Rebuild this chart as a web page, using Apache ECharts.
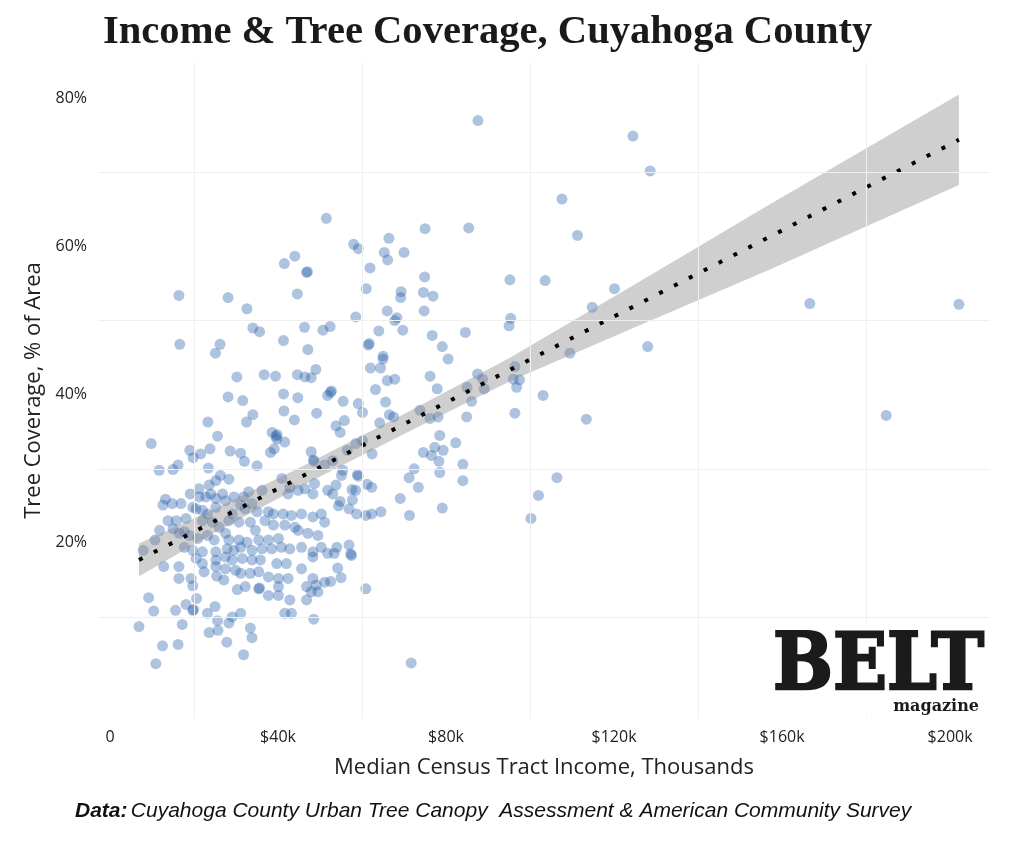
<!DOCTYPE html>
<html>
<head>
<meta charset="utf-8">
<title>Income &amp; Tree Coverage, Cuyahoga County</title>
<script src="https://cdn.jsdelivr.net/npm/echarts@6.0.0/dist/echarts.min.js"></script>
<style>
  html, body { margin: 0; padding: 0; background: #fff; }
  #chart { width: 1024px; height: 845px; }
</style>
</head>
<body>
<div id="chart"></div>
<script>
// census tracts: [median income in $k, tree canopy in % of area]
var tracts = [
    [46.8,56.5],[47.0,56.6],[16.4,53.4],[28.1,53.1],[44.6,53.6],[32.6,51.6],[34.0,49.0],[35.6,48.5],
    [46.3,49.1],[50.7,48.7],[16.6,46.8],[26.2,46.8],[25.1,45.6],[41.3,47.3],[47.1,46.1],[30.2,42.4],
    [36.7,42.7],[39.4,42.5],[44.6,42.7],[46.4,42.4],[47.9,42.3],[49.0,43.4],[28.1,39.7],[31.6,39.2],
    [41.3,40.1],[44.7,39.6],[34.0,37.3],[32.5,36.3],[41.4,37.8],[43.9,36.6],[49.2,37.5],[23.3,36.3],
    [25.6,34.4],[38.6,34.9],[39.5,34.4],[39.8,34.6],[39.7,34.0],[41.6,33.6],[38.2,32.2],[39.1,32.7],
    [9.8,33.4],[19.0,32.5],[19.8,31.5],[21.6,32.0],[23.8,32.7],[28.6,32.4],[31.1,32.1],[32.0,31.0],
    [35.0,30.4],[47.9,32.3],[48.4,31.2],[48.6,31.0],[16.2,30.5],[11.7,29.8],[15.0,29.9],[23.4,30.1],
    [51.5,63.8],[44.0,58.7],[41.5,57.7],
    [26.3,29.1],[28.3,28.6],[25.2,28.4],[23.6,27.8],[21.2,27.3],[19.1,26.6],[13.2,25.9],[12.6,25.1],
    [14.8,25.3],[16.9,25.3],[19.7,24.8],[21.2,26.2],[22.8,26.2],[24.0,26.6],[25.2,26.0],[26.8,26.6],
    [27.5,25.7],[29.5,26.2],[31.8,26.2],[33.0,26.9],[33.8,25.3],[36.2,27.1],[40.9,28.7],[42.4,26.6],
    [42.8,27.5],[44.8,27.1],[46.4,27.3],[48.3,26.6],[48.7,28.0],[20.5,24.6],[22.0,24.4],[23.2,23.9],
    [25.2,24.8],[29.1,23.9],[31.1,25.1],[32.2,24.6],[35.0,24.2],[37.7,24.2],[38.9,23.9],[41.2,23.9],
    [43.2,23.7],[45.6,23.9],[48.3,23.5],[50.3,23.9],[13.8,23.0],[15.8,23.0],[18.1,23.3],[11.8,21.7],
    [15.0,21.9],[17.7,21.5],[22.0,23.0],[24.4,22.8],[26.0,22.1],[28.3,23.0],[30.7,22.8],[33.4,22.8],
    [34.6,21.7],[36.9,23.0],[38.9,22.4],[41.6,22.4],[44.0,22.1],[44.8,21.7],[47.1,21.3],[49.5,21.0],
    [10.7,20.4],[7.9,19.0],[16.5,21.3],[18.9,21.0],[20.9,20.6],[23.2,21.0],[24.8,20.4],[27.5,21.3],
    [28.3,20.4],[30.7,20.4],[32.6,20.1],[35.4,20.4],[37.7,20.4],[40.1,20.6],[38.5,19.2],[40.8,19.4],
    [42.8,19.2],[45.6,19.4],[48.3,18.8],[50.3,19.4],[17.7,19.4],[19.7,19.0],[22.0,18.8],[25.2,18.8],
    [27.9,19.2],[29.5,19.0],[31.1,19.4],[33.8,19.0],[36.2,19.2],[20.5,17.9],[22.0,17.2],[25.2,17.7],
    [27.5,18.1],[29.1,17.7],[31.5,17.9],[33.8,17.7],[35.8,17.7],[39.7,17.2],[42.0,17.2],[45.6,16.5],
    [48.3,18.1],[12.8,16.8],[16.4,16.8],[22.4,16.1],[25.2,16.8],[27.5,16.5],[29.9,16.3],[31.1,15.9],
    [33.4,15.9],[35.4,16.1],[37.7,15.4],[40.1,15.2],[42.4,15.2],[48.3,15.2],[46.8,14.1],[47.9,13.4],
    [49.1,14.3],[16.4,15.2],[19.3,15.2],[19.7,14.2],[25.4,15.5],[27.1,15.0],[30.3,13.7],[32.2,14.1],
    [35.4,13.8],[35.6,13.9],[37.7,12.9],[40.1,14.1],[40.1,12.9],[42.8,12.3],[46.8,12.3],[49.5,13.4],
    [9.2,12.6],[10.4,10.8],[15.6,10.9],[18.1,11.7],[19.7,10.9],[19.9,11.0],[20.6,12.5],[23.2,10.5],
    [25.0,11.4],[31.1,10.5],[29.1,10.0],[28.3,9.2],[25.6,9.5],[41.6,10.5],[43.2,10.5],[48.5,9.7],
    [6.9,8.7],[17.2,9.0],[23.6,7.9],[25.7,8.2],[33.4,8.5],[33.8,7.2],[27.8,6.6],[12.5,6.1],
    [16.2,6.3],[31.8,4.9],[10.9,3.7],
    [75.0,62.4],[85.4,62.5],[66.4,61.1],[58.0,60.3],[59.1,59.7],[65.3,59.2],[66.1,58.2],[70.0,59.2],
    [61.9,57.1],[74.9,55.9],[95.2,55.5],[61.0,54.3],[69.3,53.9],[69.2,53.1],[74.6,53.8],[76.9,53.3],
    [66.0,51.3],[74.8,51.3],[58.5,50.5],[68.3,50.4],[67.8,50.0],[69.7,48.7],[95.4,50.3],[95.0,49.3],
    [52.4,49.2],[64.0,48.6],[76.7,48.0],[84.6,48.4],[61.5,46.7],[61.7,46.9],[79.1,46.5],[80.5,44.8],
    [65.0,45.2],[65.0,44.8],[62.0,43.6],[64.4,43.6],[66.0,41.9],[67.8,42.1],[76.2,42.5],[77.9,40.8],
    [63.2,40.7],[52.5,40.3],[52.7,40.5],[51.8,39.9],[55.5,39.1],[59.1,38.8],[60.1,37.6],[65.6,39.0],
    [66.5,37.3],[67.5,37.0],[85.0,41.0],[87.5,42.8],[88.7,42.1],[89.1,40.8],[86.1,39.1],[96.4,43.8],
    [96.0,42.1],[96.8,41.0],[73.8,37.9],[76.2,36.8],[78.1,37.0],[84.9,37.0],[96.4,37.5],[55.8,36.5],
    [53.8,35.8],[54.8,34.9],[64.2,36.2],[78.5,34.5],[82.3,33.5],[77.3,32.9],[79.3,32.5],[74.6,32.2],
    [76.5,31.8],[78.3,31.0],[78.5,29.5],[84.0,30.6],[84.0,28.4],[72.4,30.0],[71.2,28.8],[73.4,27.5],
    [69.1,26.0],[71.3,23.7],[79.1,24.7],[60.1,33.8],[58.5,33.4],[62.4,32.0],[56.5,32.5],[53.0,31.1],
    [51.1,30.5],[55.4,29.8],[55.1,29.1],[58.9,29.2],[59.1,29.0],[61.2,27.9],[62.3,27.5],[57.6,27.2],
    [58.5,27.1],[53.8,27.8],[51.8,27.1],[53.0,26.6],[57.7,25.8],[54.8,25.6],[54.4,25.0],[56.9,24.6],
    [58.7,23.9],[60.9,23.7],[62.3,23.9],[64.5,24.2],[51.1,22.8],[54.0,19.4],[56.9,19.7],[51.8,18.6],
    [53.4,18.6],[57.3,18.5],[57.5,18.3],[54.2,16.6],[55.0,15.3],[51.1,14.7],[52.5,14.8],[60.9,13.8],
    [124.5,74.9],[128.6,70.2],[107.6,66.4],[111.3,61.5],[103.6,55.4],[120.1,54.3],[114.8,51.8],[128.0,46.5],
    [109.5,45.6],[97.5,42.0],[103.1,39.9],[113.4,36.7],[106.4,28.8],[102.0,26.4],[100.2,23.3],
    [87.6,77.0],[166.6,52.3],[202.1,52.2],[184.8,37.2],[71.7,3.8]
];

// linear fit and its confidence band
var fitIncome = [6.9, 202.1];
var fitTree = [17.7, 74.4];
var bandIncome = [6.9, 25, 45, 70, 95.2, 125, 157.1, 202.1];
var bandLow = [15.5, 21.4, 27.5, 34.7, 41.8, 49.1, 56.9, 68.3];
var bandHigh = [19.9, 24.6, 30.1, 37.4, 45.0, 54.9, 65.7, 80.5];

// axis labels and the light grid between them
var incomeTicks = [0, 40, 80, 120, 160, 200];
var treeTicks = [20, 40, 60, 80];
var incomeGrid = [20, 60, 100, 140, 180];
var treeGrid = [10, 30, 50, 70];

var labelFont = '"Open Sans", Lato, sans-serif';
var chart = echarts.init(document.getElementById('chart'));

var gridLines = [];
incomeGrid.forEach(function (v) { gridLines.push({ xAxis: v }); });
treeGrid.forEach(function (v) { gridLines.push({ yAxis: v }); });

var option = {
    animation: false,
    backgroundColor: '#fff',
    title: {
        text: 'Income & Tree Coverage, Cuyahoga County',
        left: 98,
        top: 7,
        textStyle: {
            fontFamily: '"Liberation Serif", "DejaVu Serif", serif',
            fontWeight: 'bold',
            fontSize: 40.6,
            color: '#1a1a1a'
        }
    },
    grid: { left: 98, right: 34, top: 62, bottom: 126 },
    xAxis: {
        type: 'value',
        min: -2.86,
        max: 209.5,
        name: 'Median Census Tract Income, Thousands',
        nameLocation: 'middle',
        nameGap: 38,
        nameTextStyle: { fontFamily: labelFont, fontSize: 22, color: '#222' },
        axisLine: { show: false },
        axisTick: { show: false },
        splitLine: { show: false },
        axisLabel: {
            customValues: incomeTicks,
            margin: 10,
            fontFamily: labelFont,
            fontSize: 16,
            color: '#222',
            formatter: function (v) {
                return v === 0 ? '0' : '$' + v + 'k';
            }
        }
    },
    yAxis: {
        type: 'value',
        min: -3.77,
        max: 84.9,
        name: 'Tree Coverage, % of Area',
        nameLocation: 'middle',
        nameRotate: 90,
        nameGap: 50,
        nameTextStyle: { fontFamily: labelFont, fontSize: 22, color: '#222' },
        axisLine: { show: false },
        axisTick: { show: false },
        splitLine: { show: false },
        axisLabel: {
            customValues: treeTicks,
            margin: 11,
            fontFamily: labelFont,
            fontSize: 16,
            color: '#222',
            formatter: '{value}%'
        }
    },
    series: [
        {
            // faint grid lines sit halfway between the labels
            type: 'scatter',
            data: [],
            silent: true,
            z: 1,
            markLine: {
                silent: true,
                symbol: 'none',
                label: { show: false },
                lineStyle: { color: '#efefef', width: 1, type: 'solid' },
                emphasis: { disabled: true },
                data: gridLines
            }
        },
        {
            type: 'scatter',
            data: tracts,
            symbolSize: 11,
            z: 2,
            itemStyle: { color: 'rgba(30, 90, 165, 0.45)' }
        },
        {
            type: 'custom',
            silent: true,
            z: 3,
            data: [[bandIncome[0], bandLow[0]]],
            renderItem: function (params, api) {
                var pts = [];
                for (var i = 0; i < bandIncome.length; i++) {
                    pts.push(api.coord([bandIncome[i], bandHigh[i]]));
                }
                for (var j = bandIncome.length - 1; j >= 0; j--) {
                    pts.push(api.coord([bandIncome[j], bandLow[j]]));
                }
                return {
                    type: 'polygon',
                    shape: { points: pts },
                    style: { fill: 'rgba(140, 140, 140, 0.42)' }
                };
            }
        },
        {
            type: 'line',
            silent: true,
            z: 4,
            symbol: 'none',
            data: [[fitIncome[0], fitTree[0]], [fitIncome[1], fitTree[1]]],
            lineStyle: { color: '#000', width: 4, type: [4, 12.7], cap: 'butt' }
        }
    ],
    graphic: [
        {
            type: 'rect',
            shape: { x: 770, y: 624, width: 216, height: 92 },
            style: { fill: '#fff' },
            z: 10
        },
        {
            type: 'text',
            x: 773,
            y: 669,
            scaleX: 0.91,
            z: 11,
            style: {
                text: 'BELT',
                font: 'bold 78px "DejaVu Serif", serif',
                fill: '#1b1b1b',
                stroke: '#1b1b1b',
                lineWidth: 2.5,
                verticalAlign: 'middle'
            }
        },
        {
            type: 'text',
            x: 979,
            y: 707,
            z: 11,
            style: {
                text: 'magazine',
                font: 'bold 16px "DejaVu Serif", serif',
                fill: '#1b1b1b',
                align: 'right',
                verticalAlign: 'middle'
            }
        },
        {
            type: 'text',
            left: 75,
            top: 801,
            style: {
                rich: {
                    b: { font: 'italic bold 21px "Liberation Sans", Arial, sans-serif', fill: '#111' },
                    n: { font: 'italic 21px "Liberation Sans", Arial, sans-serif', fill: '#111' }
                },
                text: '{b|Data:} {n|Cuyahoga County Urban Tree Canopy  Assessment & American Community Survey}'
            }
        }
    ]
};

chart.setOption(option);
</script>
</body>
</html>
